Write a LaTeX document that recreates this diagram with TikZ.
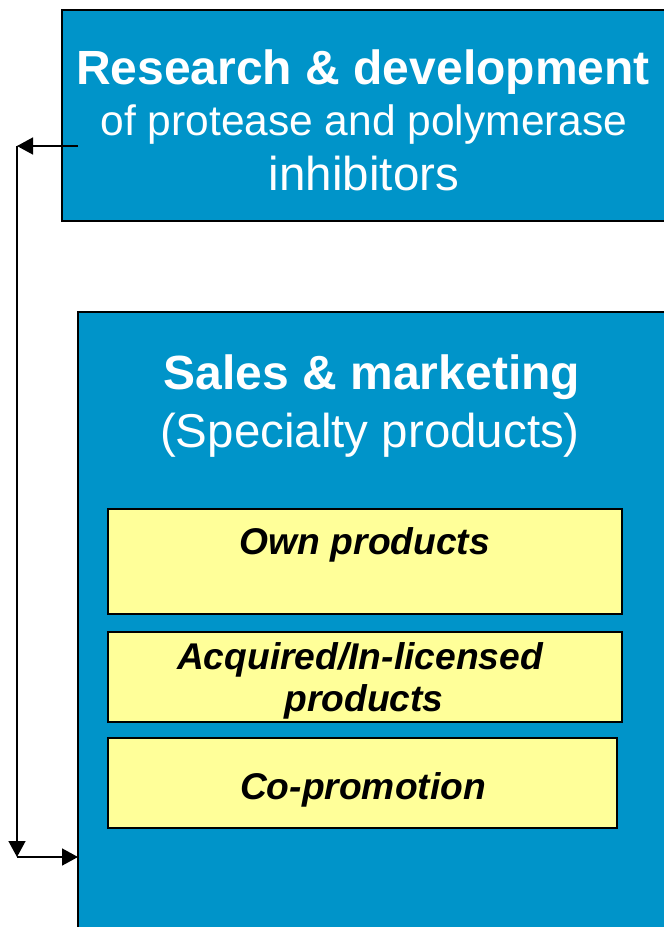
\documentclass[tikz,border=0pt]{standalone}
\usepackage{fontspec}
\setmainfont{Liberation Sans}
\usetikzlibrary{arrows.meta}
\definecolor{boxblue}{RGB}{0,148,201}
\definecolor{boxyellow}{RGB}{255,255,153}
\tikzset{
  bluebox/.style={draw=black, line width=1.6pt, fill=boxblue},
  yellowbox/.style={draw=black, line width=1.8pt, fill=boxyellow},
  whitebold/.style={text=white, font=\fontsize{48}{55}\bfseries\selectfont, inner sep=0pt, anchor=base},
  whitereg/.style={text=white, font=\fontsize{47.5}{55}\selectfont, inner sep=0pt, anchor=base},
  itlabel/.style={text=black, font=\fontsize{37.2}{43}\bfseries\itshape\selectfont, inner sep=0pt, anchor=base},
  link/.style={draw=black, line width=1.5pt, -{Triangle[length=16pt,width=17pt]}}
}
\begin{document}
\begin{tikzpicture}[x=1pt,y=-1pt]
\clip (0,0) rectangle (664,927);
% boxes
\path[bluebox] (62,10) rectangle (680,221);
\path[bluebox] (78,312) rectangle (680,945);
\coordinate (saleswest) at (78,857);
\path[yellowbox] (108,509) rectangle (622,614);
\path[yellowbox] (108,632) rectangle (622,722);
\path[yellowbox] (108,738) rectangle (617,828);
% texts
\node[whitebold] (t1) at (363,84) {Research \& development};
\node[whitereg, font=\fontsize{42.5}{50}\selectfont] (t2) at (364,135) {of protease and polymerase};
\node[whitereg] (t3) at (364,190) {inhibitors};
\node[whitebold] (t4) at (372,389) {Sales \& marketing};
\node[whitereg] (t5) at (370,447) {(Specialty products)};
\node[itlabel] (y1) at (365,554) {Own products};
\node[itlabel] (y2) at (360,669) {Acquired/In-licensed};
\node[itlabel] (y3) at (364,711) {products};
\node[itlabel] (y4) at (363,799) {Co-promotion};
% connectors
\coordinate (start) at (78,146);
\coordinate (c1) at (17,146);
\coordinate (c2) at (17,857);
\draw[link] (start) -- (c1);
\draw[link] (c1) -- (c2);
\draw[link] (c2) -- (saleswest);
\end{tikzpicture}
\end{document}
